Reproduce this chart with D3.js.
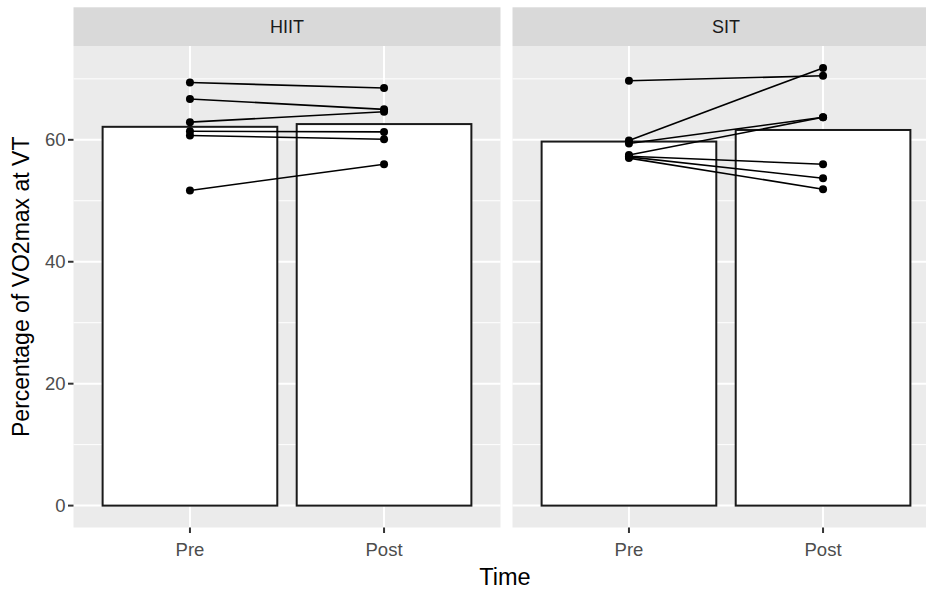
<!DOCTYPE html>
<html>
<head>
<meta charset="utf-8">
<script src="https://cdn.jsdelivr.net/npm/d3@7"></script>
<style>
  html, body { margin: 0; padding: 0; background: #ffffff; overflow: hidden; }
  svg { display: block; font-family: "Liberation Sans", Arial, sans-serif; }
</style>
</head>
<body>
<svg id="chart" width="926" height="589"></svg>
<script>
// Facets and time points
const groups = ["HIIT", "SIT"];
const times = ["Pre", "Post"];

// Individual participants: % of VO2max at ventilatory threshold
const hiitPre  = [69.4, 66.7, 62.9, 61.4, 60.7, 51.7];
const hiitPost = [68.5, 65.0, 64.6, 61.3, 60.1, 56.0];
const sitPre   = [69.7, 59.9, 59.4, 57.5, 57.3, 57.2, 57.0];
const sitPost  = [70.5, 71.8, 63.7, 63.7, 56.0, 53.7, 51.9];

const yTicks = [0, 20, 40, 60];
const yMinor = [10, 30, 50, 70];

const groupData = {
  HIIT: { pre: hiitPre, post: hiitPost },
  SIT:  { pre: sitPre,  post: sitPost }
};

const svg = d3.select("#chart");

// Layout
const panelTop = 46, panelBottom = 527.5;
const stripTop = 7.3;
const panelLefts = [73.5, 512.5];
const panelW = 427;

// Shared y scale with 5% expansion on both sides
const allVals = hiitPre.concat(hiitPost, sitPre, sitPost);
const yMax = d3.max(allVals);
const pad = yMax * 0.05;
const y = d3.scaleLinear().domain([-pad, yMax + pad]).range([panelBottom, panelTop]);

const x = d3.scalePoint().domain(times).range([0, panelW]).padding(0.6);
const step = x.step();
const barW = step * 0.9;

groups.forEach((g, gi) => {
  const left = panelLefts[gi];
  const p = svg.append("g").attr("transform", `translate(${left},0)`);
  const d = groupData[g];
  const series = { Pre: d.pre, Post: d.post };

  // Panel background
  p.append("rect")
    .attr("x", 0).attr("y", panelTop)
    .attr("width", panelW).attr("height", panelBottom - panelTop)
    .attr("fill", "#EBEBEB");

  // Minor grid
  p.selectAll(".ymin").data(yMinor).enter().append("line")
    .attr("x1", 0).attr("x2", panelW)
    .attr("y1", v => y(v)).attr("y2", v => y(v))
    .attr("stroke", "#ffffff").attr("stroke-width", 1);

  // Major grid
  p.selectAll(".ymaj").data(yTicks).enter().append("line")
    .attr("x1", 0).attr("x2", panelW)
    .attr("y1", v => y(v)).attr("y2", v => y(v))
    .attr("stroke", "#ffffff").attr("stroke-width", 2);
  p.selectAll(".xmaj").data(times).enter().append("line")
    .attr("x1", t => x(t)).attr("x2", t => x(t))
    .attr("y1", panelTop).attr("y2", panelBottom)
    .attr("stroke", "#ffffff").attr("stroke-width", 2);

  // Mean bars
  p.selectAll(".bar").data(times).enter().append("rect")
    .attr("x", t => x(t) - barW / 2)
    .attr("y", t => y(d3.mean(series[t])))
    .attr("width", barW)
    .attr("height", t => y(0) - y(d3.mean(series[t])))
    .attr("fill", "#ffffff")
    .attr("stroke", "#1a1a1a")
    .attr("stroke-width", 2);

  // Paired lines per participant
  const pairs = d.pre.map((v, i) => [v, d.post[i]]);
  p.selectAll(".pair").data(pairs).enter().append("line")
    .attr("x1", x("Pre")).attr("x2", x("Post"))
    .attr("y1", pr => y(pr[0])).attr("y2", pr => y(pr[1]))
    .attr("stroke", "#000000").attr("stroke-width", 1.6);

  // Points
  times.forEach(t => {
    p.selectAll(".pt-" + t).data(series[t]).enter().append("circle")
      .attr("cx", x(t)).attr("cy", v => y(v))
      .attr("r", 4).attr("fill", "#000000");
  });

  // Strip
  p.append("rect")
    .attr("x", 0).attr("y", stripTop)
    .attr("width", panelW).attr("height", panelTop - stripTop)
    .attr("fill", "#D9D9D9");
  p.append("text")
    .attr("x", panelW / 2).attr("y", (stripTop + panelTop) / 2)
    .attr("dy", "0.35em")
    .attr("text-anchor", "middle")
    .attr("font-size", 18)
    .attr("fill", "#1A1A1A")
    .text(g);

  // Bottom axis
  const xAxis = p.append("g").attr("transform", `translate(0,${panelBottom})`);
  times.forEach(t => {
    xAxis.append("line")
      .attr("x1", x(t)).attr("x2", x(t)).attr("y1", 0).attr("y2", 5.5)
      .attr("stroke", "#333333").attr("stroke-width", 2);
    xAxis.append("text")
      .attr("x", x(t)).attr("y", 28.5)
      .attr("text-anchor", "middle")
      .attr("font-size", 18.5)
      .attr("fill", "#4D4D4D")
      .text(t);
  });
});

// Left axis
const yAxis = svg.append("g").attr("transform", `translate(${panelLefts[0]},0)`);
yTicks.forEach(v => {
  yAxis.append("line")
    .attr("x1", -5.5).attr("x2", 0).attr("y1", y(v)).attr("y2", y(v))
    .attr("stroke", "#333333").attr("stroke-width", 2);
  yAxis.append("text")
    .attr("x", -8).attr("y", y(v)).attr("dy", "0.36em")
    .attr("text-anchor", "end")
    .attr("font-size", 18.5)
    .attr("fill", "#4D4D4D")
    .text(v);
});

// Axis titles
svg.append("text")
  .attr("x", 505).attr("y", 585)
  .attr("text-anchor", "middle")
  .attr("font-size", 23.5)
  .attr("fill", "#000000")
  .text("Time");

svg.append("text")
  .attr("transform", `translate(29,${(panelTop + panelBottom) / 2}) rotate(-90)`)
  .attr("text-anchor", "middle")
  .attr("font-size", 23)
  .attr("fill", "#000000")
  .text("Percentage of VO2max at VT");
</script>
</body>
</html>
